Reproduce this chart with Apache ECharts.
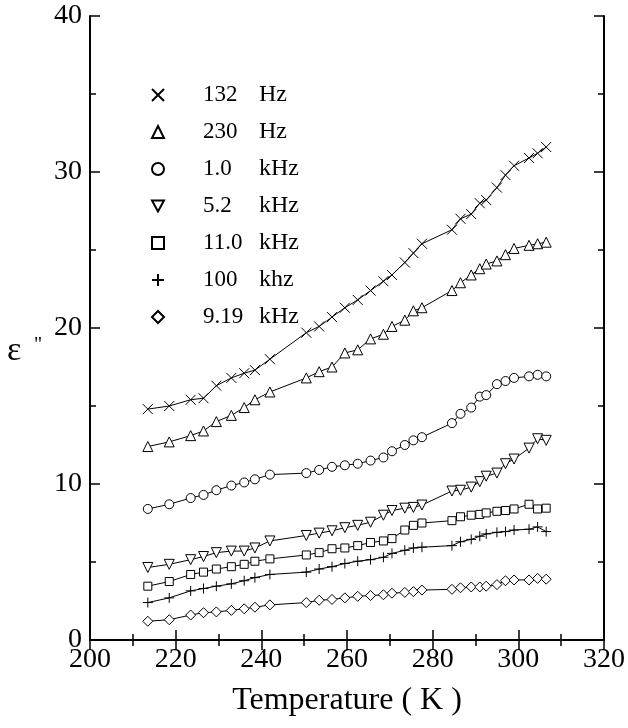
<!DOCTYPE html>
<html>
<head>
<meta charset="utf-8">
<script src="https://cdn.jsdelivr.net/npm/echarts@6/dist/echarts.min.js"></script>
<style>
html,body{margin:0;padding:0;background:#fff;}
#c{width:628px;height:728px;}
</style>
</head>
<body>
<div id="c"></div>
<script>
// Temperatures (K)
const temps = [213.5, 218.5, 223.5, 226.5, 229.5, 233, 236, 238.5, 242, 250.5, 253.5, 256.5, 259.5, 262.5, 265.5, 268.5, 270.5, 273.5, 275.5, 277.5, 284.5, 286.5, 289, 291, 292.5, 295, 297, 299, 302.5, 304.5, 306.5];

const names = ['132 Hz', '230 Hz', '1.0 kHz', '5.2 kHz', '11.0 kHz', '100 khz', '9.19 kHz'];

const v132 = [14.8, 15.0, 15.4, 15.5, 16.3, 16.8, 17.1, 17.3, 18.0, 19.7, 20.1, 20.7, 21.3, 21.8, 22.4, 23.0, 23.4, 24.2, 24.8, 25.4, 26.3, 27.0, 27.3, 28.0, 28.2, 29.0, 29.8, 30.4, 30.9, 31.2, 31.6];
const v230 = [12.4, 12.7, 13.1, 13.4, 14.0, 14.4, 14.9, 15.4, 15.9, 16.8, 17.2, 17.5, 18.4, 18.6, 19.3, 19.6, 20.1, 20.5, 21.1, 21.3, 22.4, 22.9, 23.4, 23.8, 24.1, 24.3, 24.7, 25.1, 25.3, 25.4, 25.5];
const v1k = [8.4, 8.7, 9.1, 9.3, 9.6, 9.9, 10.1, 10.3, 10.6, 10.7, 10.9, 11.1, 11.2, 11.3, 11.5, 11.7, 12.1, 12.5, 12.8, 13.0, 13.9, 14.5, 14.9, 15.6, 15.7, 16.4, 16.6, 16.8, 16.9, 17.0, 16.9];
const v5k = [4.65, 4.85, 5.15, 5.35, 5.6, 5.7, 5.7, 5.9, 6.35, 6.7, 6.85, 7.0, 7.2, 7.35, 7.55, 8.0, 8.3, 8.45, 8.5, 8.65, 9.55, 9.6, 9.8, 10.15, 10.5, 10.7, 11.3, 11.6, 12.3, 12.9, 12.8];
const v11k = [3.45, 3.75, 4.2, 4.35, 4.55, 4.7, 4.85, 5.05, 5.2, 5.45, 5.6, 5.85, 5.9, 6.05, 6.25, 6.35, 6.5, 7.05, 7.35, 7.5, 7.65, 7.9, 8.0, 8.05, 8.15, 8.25, 8.3, 8.4, 8.7, 8.4, 8.45];
const v100k = [2.4, 2.7, 3.15, 3.3, 3.45, 3.6, 3.8, 4.0, 4.2, 4.35, 4.55, 4.7, 4.9, 5.05, 5.15, 5.3, 5.55, 5.75, 5.9, 5.95, 6.05, 6.3, 6.45, 6.65, 6.8, 6.9, 6.95, 7.05, 7.1, 7.25, 6.95];
const v919k = [1.2, 1.3, 1.6, 1.75, 1.8, 1.9, 2.0, 2.1, 2.25, 2.4, 2.55, 2.6, 2.7, 2.8, 2.85, 2.9, 3.0, 3.05, 3.1, 3.2, 3.25, 3.35, 3.4, 3.4, 3.45, 3.55, 3.8, 3.85, 3.85, 3.95, 3.9];

const xTicks = [200, 220, 240, 260, 280, 300, 320];
const yTicks = [0, 10, 20, 30, 40];

const values = [v132, v230, v1k, v5k, v11k, v100k, v919k];
const symbols = [
  'path://M0,0L10,10M10,0L0,10',
  'triangle',
  'circle',
  'path://M0,0L10,0L5,9Z',
  'rect',
  'path://M5,0L5,10M0,5L10,5',
  'diamond'
];
const sizes = [10, 10, 9, 10, 8, 10, 10];

const FONT = 'Liberation Serif';

const chart = echarts.init(document.getElementById('c'));

const series = values.map((vals, i) => ({
  name: names[i],
  type: 'line',
  xAxisIndex: 0,
  yAxisIndex: 0,
  data: temps.map((t, j) => [t, vals[j]]),
  symbol: symbols[i],
  symbolSize: sizes[i],
  showAllSymbol: true,
  lineStyle: { color: '#000', width: 1 },
  itemStyle: { color: '#fff', borderColor: '#000', borderWidth: 1 },
  emphasis: { disabled: true },
  animation: false,
  z: 3
}));

const axisCommon = {
  axisLine: { show: true, lineStyle: { color: '#000', width: 2 } },
  axisTick: { show: true, inside: true, length: 10, lineStyle: { color: '#000', width: 1.5 } },
  minorTick: { show: true, splitNumber: 2, length: 6, lineStyle: { color: '#000', width: 1.5 } },
  splitLine: { show: false }
};

chart.setOption({
  animation: false,
  backgroundColor: '#fff',
  grid: { left: 90, right: 20, top: 16, bottom: 88 },
  legend: {
    orient: 'vertical',
    left: 146,
    top: 78,
    itemWidth: 12,
    itemHeight: 12,
    itemGap: 13,
    selectedMode: false,
    data: names.map((n, i) => ({ name: n, icon: symbols[i] })),
    formatter: function (name) {
      const parts = name.split(' ');
      return '{s|}{n|' + parts[0] + '}{u|' + parts[1] + '}';
    },
    textStyle: {
      rich: {
        s: { width: 34 },
        n: { width: 56, fontFamily: FONT, fontSize: 23, color: '#000', lineHeight: 24 },
        u: { fontFamily: FONT, fontSize: 24, color: '#000', lineHeight: 24 }
      }
    }
  },
  xAxis: [
    Object.assign({
      type: 'value', min: 200, max: 320, interval: 20, position: 'bottom',
      name: 'Temperature ( K )', nameLocation: 'middle', nameGap: 45,
      nameTextStyle: { fontFamily: FONT, fontSize: 32, color: '#000' },
      axisLabel: {
        fontFamily: FONT, fontSize: 28, color: '#000', margin: 6,
        formatter: v => (xTicks.indexOf(v) >= 0 ? String(v) : '')
      }
    }, axisCommon),
    Object.assign({
      type: 'value', min: 200, max: 320, interval: 20, position: 'top',
      axisLabel: { show: false }
    }, axisCommon)
  ],
  yAxis: [
    Object.assign({
      type: 'value', min: 0, max: 40, interval: 10, position: 'left',
      axisLabel: {
        fontFamily: FONT, fontSize: 28, color: '#000', margin: 8,
        formatter: v => (yTicks.indexOf(v) >= 0 ? String(v) : '')
      }
    }, axisCommon),
    Object.assign({
      type: 'value', min: 0, max: 40, interval: 10, position: 'right',
      axisLabel: { show: false }
    }, axisCommon)
  ],
  graphic: [
    { type: 'text', left: 7, top: 334, style: { text: 'ε', font: '34px "Liberation Serif"', fill: '#000' } },
    { type: 'text', left: 34, top: 336, style: { text: '"', font: '20px "Liberation Serif"', fill: '#000' } }
  ],
  series: series
});
</script>
</body>
</html>
